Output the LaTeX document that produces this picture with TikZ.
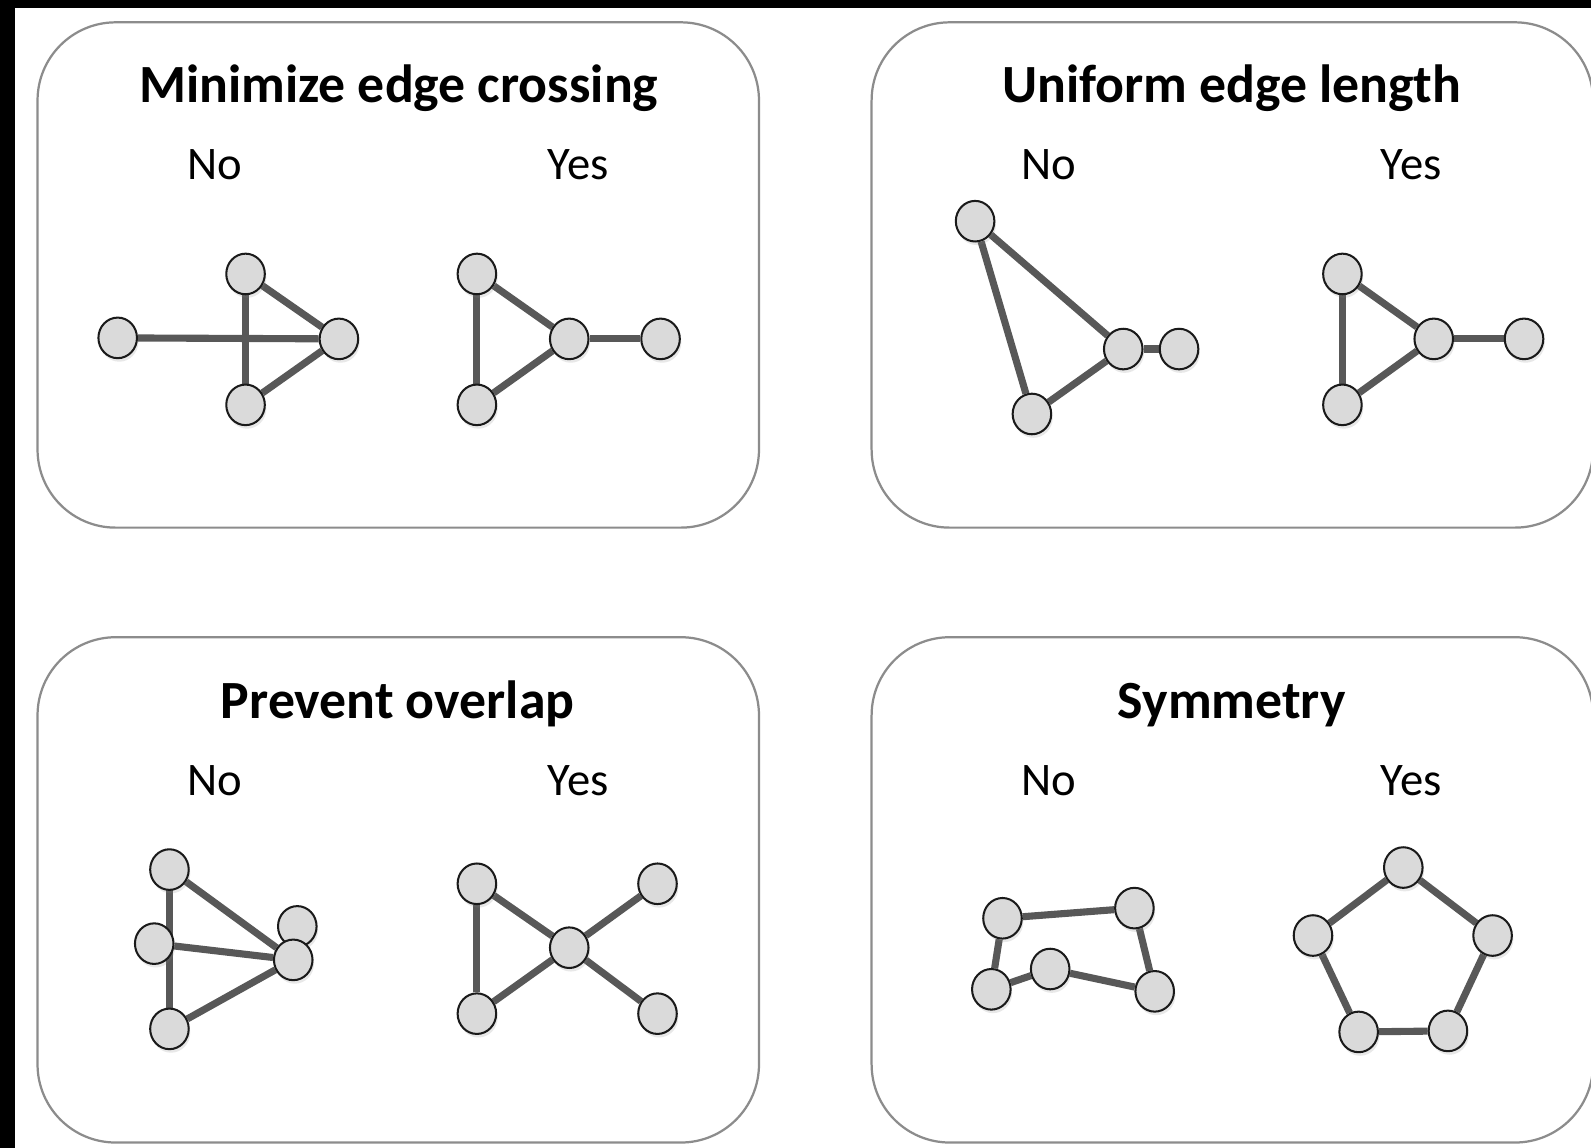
\documentclass[tikz,border=0pt]{standalone}
\usepackage{fontspec}
\setmainfont{Carlito}
\usetikzlibrary{shapes.geometric,shadows}
\definecolor{boxgray}{HTML}{8C8C8C}
\definecolor{edgegray}{HTML}{585858}
\definecolor{nodefill}{HTML}{DADADA}
\definecolor{nodeline}{HTML}{1A1A1A}
\pgfdeclarelayer{edgelayer}
\pgfsetlayers{edgelayer,main}
\tikzset{
  panel/.style={draw=boxgray, line width=2.2pt, rounded corners=77pt},
  title/.style={anchor=base, font=\fontsize{53}{60}\selectfont\bfseries, inner sep=0pt},
  label/.style={anchor=base, font=\fontsize{46}{54}\selectfont, inner sep=0pt},
  gnode/.style={ellipse, draw=nodeline, line width=2pt, fill=nodefill,
    minimum width=38pt, minimum height=40pt, inner sep=0pt,
    drop shadow={opacity=0.18, shadow xshift=1.5pt, shadow yshift=-3.5pt}},
  gedge/.style={draw=edgegray, line width=7pt},
}
\begin{document}
\begin{tikzpicture}[x=1pt,y=-1pt]
\useasboundingbox (0,0) rectangle (1568,1131);
\begin{pgfonlayer}{edgelayer}
\fill[white] (0,0) rectangle (1568,1131);
\fill[black] (0,0) rectangle (1568,8);
\fill[black] (0,0) rectangle (15,1131);
\end{pgfonlayer}

% panels
\draw[panel] (37,22) rectangle (748,520);
\draw[panel] (859,22) rectangle (1570,520);
\draw[panel] (37,628) rectangle (748,1126);
\draw[panel] (859,628) rectangle (1570,1126);

% titles
\node[title] (t1) at (393,101) {Minimize edge crossing};
\node[title] (t2) at (1214,101) {Uniform edge length};
\node[title] (t3) at (392,708) {Prevent overlap};
\node[title] (t4) at (1214,708) {Symmetry};

\node[label] (n1) at (212,177) {No};
\node[label] (y1) at (570,177) {Yes};
\node[label] (n2) at (1034,177) {No};
\node[label] (y2) at (1391,177) {Yes};
\node[label] (n3) at (212,784) {No};
\node[label] (y3) at (570,784) {Yes};
\node[label] (n4) at (1034,784) {No};
\node[label] (y4) at (1391,784) {Yes};

% ---- Minimize edge crossing: No
\node[gnode] (a1) at (116,333) {};
\node[gnode] (a2) at (242,270) {};
\node[gnode] (a3) at (242,399) {};
\node[gnode] (a4) at (334,334) {};
% ---- Minimize edge crossing: Yes
\node[gnode] (b1) at (470,270) {};
\node[gnode] (b2) at (470,399) {};
\node[gnode] (b3) at (561,334) {};
\node[gnode] (b4) at (651,334) {};
% ---- Uniform edge length: No
\node[gnode] (c1) at (961,218) {};
\node[gnode] (c2) at (1107,344) {};
\node[gnode] (c3) at (1162,344) {};
\node[gnode] (c4) at (1017,408) {};
% ---- Uniform edge length: Yes
\node[gnode] (d1) at (1323,270) {};
\node[gnode] (d2) at (1323,399) {};
\node[gnode] (d3) at (1413,334) {};
\node[gnode] (d4) at (1502,334) {};
% ---- Prevent overlap: No
\node[gnode] (e1) at (167,857) {};
\node[gnode] (e2) at (152,930) {};
\node[gnode] (e3) at (167,1014) {};
\node[gnode] (e4) at (293,913) {};
\node[gnode] (e5) at (289,946) {};
% ---- Prevent overlap: Yes
\node[gnode] (f1) at (470,871) {};
\node[gnode] (f2) at (470,999) {};
\node[gnode] (f3) at (561,934) {};
\node[gnode] (f4) at (648,871) {};
\node[gnode] (f5) at (648,999) {};
% ---- Symmetry: No
\node[gnode] (g1) at (988,905) {};
\node[gnode] (g2) at (1118,895) {};
\node[gnode] (g3) at (977,975) {};
\node[gnode] (g4) at (1035,955) {};
\node[gnode] (g5) at (1138,977) {};
% ---- Symmetry: Yes
\node[gnode] (h1) at (1383,855) {};
\node[gnode] (h2) at (1471,922) {};
\node[gnode] (h3) at (1427,1016) {};
\node[gnode] (h4) at (1339,1017) {};
\node[gnode] (h5) at (1294,922) {};

% edges (behind the nodes)
\begin{pgfonlayer}{edgelayer}
\draw[gedge] (a1) -- (a4);
\draw[gedge] (a2) -- (a3);
\draw[gedge] (a2) -- (a4);
\draw[gedge] (a3) -- (a4);

\draw[gedge] (b1) -- (b2);
\draw[gedge] (b1) -- (b3);
\draw[gedge] (b2) -- (b3);
\draw[gedge] (b3) -- (b4);

\draw[gedge] (c1) -- (c2);
\draw[gedge] (c1) -- (c4);
\draw[gedge] (c4) -- (c2);
\draw[gedge] (c2) -- (c3);

\draw[gedge] (d1) -- (d2);
\draw[gedge] (d1) -- (d3);
\draw[gedge] (d2) -- (d3);
\draw[gedge] (d3) -- (d4);

\draw[gedge] (e1.center) -- (e3.center);
\draw[gedge] (e1) -- (e5);
\draw[gedge] (e2) -- (e5);
\draw[gedge] (e3) -- (e5);

\draw[gedge] (f1) -- (f2);
\draw[gedge] (f1) -- (f3);
\draw[gedge] (f2) -- (f3);
\draw[gedge] (f3) -- (f4);
\draw[gedge] (f3) -- (f5);

\draw[gedge] (g1) -- (g2);
\draw[gedge] (g1) -- (g3);
\draw[gedge] (g3) -- (g4);
\draw[gedge] (g4) -- (g5);
\draw[gedge] (g2) -- (g5);

\draw[gedge] (h1) -- (h2);
\draw[gedge] (h2) -- (h3);
\draw[gedge] (h3) -- (h4);
\draw[gedge] (h4) -- (h5);
\draw[gedge] (h5) -- (h1);
\end{pgfonlayer}
\end{tikzpicture}
\end{document}
